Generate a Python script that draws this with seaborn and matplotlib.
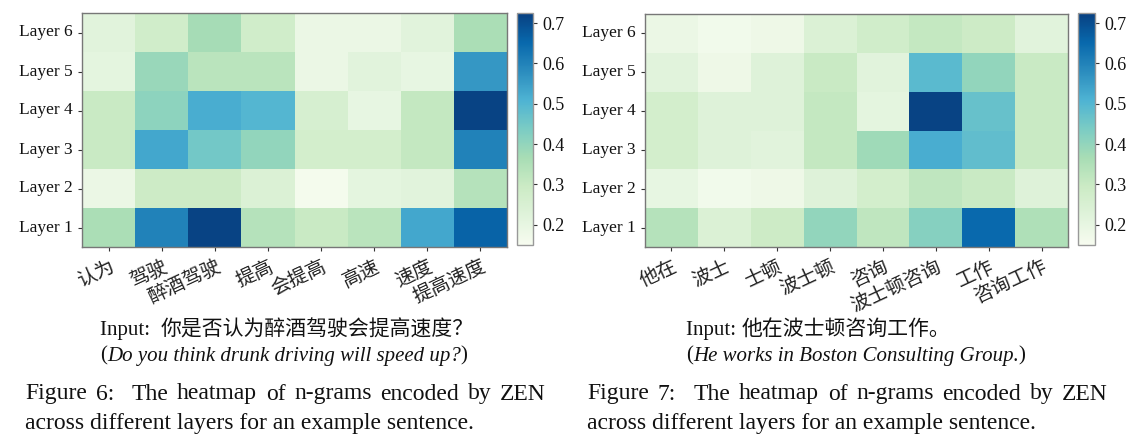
import numpy as np
import pandas as pd
import matplotlib
matplotlib.use('Agg')
import matplotlib.pyplot as plt
import seaborn as sns

# data
layers = ['Layer 6', 'Layer 5', 'Layer 4', 'Layer 3', 'Layer 2', 'Layer 1']

ngrams6 = ['认为', '驾驶', '醉酒驾驶', '提高', '会提高', '高速', '速度', '提高速度']
vals6 = [
    [0.22, 0.28, 0.37, 0.28, 0.19, 0.19, 0.22, 0.36],
    [0.21, 0.39, 0.33, 0.33, 0.19, 0.22, 0.20, 0.56],
    [0.30, 0.41, 0.52, 0.50, 0.26, 0.20, 0.31, 0.72],
    [0.30, 0.53, 0.45, 0.40, 0.27, 0.27, 0.31, 0.60],
    [0.19, 0.29, 0.29, 0.24, 0.16, 0.21, 0.22, 0.34],
    [0.36, 0.60, 0.72, 0.34, 0.30, 0.33, 0.53, 0.66],
]

ngrams7 = ['他在', '波士', '士顿', '波士顿', '咨询', '波士顿咨询', '工作', '咨询工作']
vals7 = [
    [0.19, 0.17, 0.18, 0.24, 0.28, 0.31, 0.29, 0.22],
    [0.22, 0.18, 0.23, 0.30, 0.22, 0.49, 0.40, 0.30],
    [0.27, 0.23, 0.23, 0.31, 0.21, 0.72, 0.47, 0.30],
    [0.27, 0.23, 0.22, 0.31, 0.38, 0.52, 0.48, 0.30],
    [0.20, 0.17, 0.18, 0.23, 0.27, 0.32, 0.30, 0.23],
    [0.34, 0.24, 0.29, 0.40, 0.32, 0.42, 0.65, 0.35],
]

cbar_ticks = [0.2, 0.3, 0.4, 0.5, 0.6, 0.7]

sns.set_style('white')
plt.rcParams['font.family'] = ['Liberation Serif', 'Noto Sans CJK SC']

fig = plt.figure(figsize=(11.36, 4.42), dpi=100)

W, H = 1136, 442
def box(x0, y0, x1, y1):
    return [x0 / W, 1 - y1 / H, (x1 - x0) / W, (y1 - y0) / H]

panels = [
    (vals6, ngrams6, box(82, 13, 507, 247), box(517, 13, 533, 245)),
    (vals7, ngrams7, box(645, 14, 1068, 247), box(1078, 13, 1095, 245)),
]

for vals, ngrams, hbox, cbox in panels:
    ax = fig.add_axes(hbox)
    cax = fig.add_axes(cbox)
    df = pd.DataFrame(vals, index=layers, columns=ngrams)
    sns.heatmap(df, cmap='GnBu', vmin=0.15, vmax=0.725, ax=ax, cbar_ax=cax,
                cbar_kws={'ticks': cbar_ticks})
    for s in ax.spines.values():
        s.set_visible(True)
        s.set_color('#777777')
        s.set_linewidth(1.0)
    ax.tick_params(axis='both', which='both', length=3, width=0.8,
                   color='#333333', bottom=True, left=True)
    ax.set_yticklabels(layers, rotation=0, fontsize=12.5, color='#111111')
    ax.set_xticklabels(ngrams, rotation=25, ha='right', rotation_mode='anchor',
                       fontsize=14, color='#222222',
                       family=['Noto Sans CJK SC', 'DejaVu Sans'])
    ax.set_xlabel('')
    ax.set_ylabel('')
    cb = ax.collections[0].colorbar
    cb.outline.set_edgecolor('#999999')
    cb.outline.set_linewidth(1.0)
    cax.tick_params(length=3, width=0.8, color='#333333', labelsize=13)
    cax.set_yticklabels(['%.1f' % t for t in cbar_ticks], color='#111111')

renderer = fig.canvas.get_renderer()

def pieces(x, y, parts, size):
    # write several text pieces one after another on a line
    for txt, style in parts:
        t = fig.text(x / W, 1 - y / H, txt, fontsize=size, style=style,
                     va='center', ha='left', color='#111111')
        x += t.get_window_extent(renderer).width

def justified(x0, x1, y, line, size):
    words = line.split(' ')
    widths = []
    for w in words:
        t = fig.text(0, 0, w, fontsize=size)
        widths.append(t.get_window_extent(renderer).width)
        t.remove()
    gap = (x1 - x0 - sum(widths)) / (len(words) - 1)
    x = x0
    for w, wd in zip(words, widths):
        fig.text(x / W, 1 - y / H, w, fontsize=size, va='center', ha='left',
                 color='#111111')
        x += wd + gap

# input sentences
pieces(100, 330, [('Input:  ', 'normal'), ('你是否认为醉酒驾驶会提高速度？', 'normal')], 15)
pieces(100, 356, [('(', 'normal'), ('Do you think drunk driving will speed up?', 'italic'),
                  (')', 'normal')], 15)
pieces(686, 330, [('Input: ', 'normal'), ('他在波士顿咨询工作。', 'normal')], 15)
pieces(686, 356, [('(', 'normal'), ('He works in Boston Consulting Group.', 'italic'),
                  (')', 'normal')], 15)

# captions
justified(25, 546, 394, 'Figure 6:  The heatmap of n-grams encoded by ZEN', 17)
fig.text(25 / W, 1 - 423 / H, 'across different layers for an example sentence.',
         fontsize=17, va='center', ha='left', color='#111111')
justified(587, 1108, 394, 'Figure 7:  The heatmap of n-grams encoded by ZEN', 17)
fig.text(587 / W, 1 - 423 / H, 'across different layers for an example sentence.',
         fontsize=17, va='center', ha='left', color='#111111')

fig.savefig('out.png', dpi=100)
